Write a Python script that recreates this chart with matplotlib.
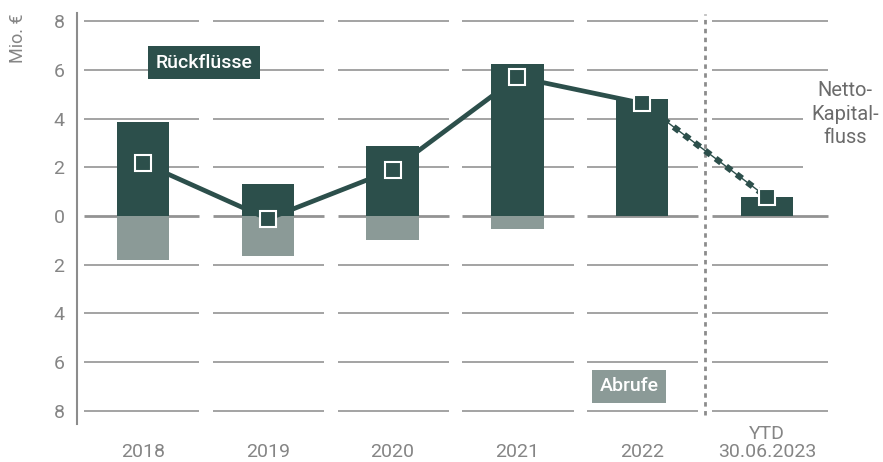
import matplotlib.pyplot as plt
import matplotlib.transforms as mtransforms

plt.rcParams['font.family'] = ['Roboto', 'DejaVu Sans']

# Mio. EUR per period
labels = ['2018', '2019', '2020', '2021', '2022', 'YTD\n30.06.2023']
rueckfluesse = [3.85, 1.31, 2.87, 6.23, 4.80, 0.79]
abrufe = [-1.80, -1.63, -0.98, -0.52, 0.0, 0.0]
netto = [2.18, -0.12, 1.89, 5.70, 4.63, 0.77]
yticks = [8, 6, 4, 2, 0, -2, -4, -6, -8]

dark = '#2c4f4b'
light = '#8b9a97'
grid_c = '#939393'
text_c = '#858585'
fs = 14

fig = plt.figure(figsize=(8.83, 4.62), dpi=100)
ax = fig.add_axes([77 / 883, 1 - 424 / 462, (840 - 77) / 883, (424 - 13) / 462])
ax.set_xlim(-0.529, 5.585)
ax.set_ylim(-8.55, 8.34)

x = list(range(len(labels)))

# grid drawn as separate segments per category
for i in x:
    for yv in yticks:
        x0 = i - 0.44
        x1 = i + 0.45
        if i == 0:
            x0 = -0.47
        if i == len(labels) - 1:
            # shorter where the side label sits
            x1 = i + 0.29 if yv in (4, 2) else i + 0.49
        lw = 2.0 if yv == 0 else 1.2
        ax.hlines(yv, x0, x1, color=grid_c, lw=lw, zorder=1)

ax.bar(x, rueckfluesse, width=0.42, color=dark, zorder=2)
ax.bar(x, abrufe, width=0.42, color=light, zorder=2)

# net flow: solid for full years, dotted to the YTD value
ax.plot(x[:5], netto[:5], color=dark, lw=3.4, zorder=3, solid_joinstyle='miter')
ax.plot(x[4:], netto[4:], color=dark, lw=1.0, zorder=3)
ax.plot(x[4:], netto[4:], color=dark, lw=4.5, zorder=3,
        linestyle=(0, (1.1, 1.0)))
ax.plot(x, netto, linestyle='none', marker='s', markersize=11,
        markerfacecolor=dark, markeredgecolor='white', markeredgewidth=1.5,
        zorder=4)

# separator before the YTD column
ax.vlines(4.5, -8.16, 8.3, color='#8c8c8c', lw=2.0,
          linestyles=[(0, (1.6, 1.6))], zorder=1)

for s in ['top', 'right', 'bottom']:
    ax.spines[s].set_visible(False)
ax.spines['left'].set_color('#8c8c8c')
ax.spines['left'].set_linewidth(1.5)

ax.set_yticks(yticks)
ax.set_yticklabels([str(abs(v)) for v in yticks])
ax.tick_params(axis='y', length=0, pad=9, labelsize=fs, labelcolor=text_c)
ax.set_xticks([])

trans = mtransforms.blended_transform_factory(ax.transData, fig.transFigure)
for i, lab in enumerate(labels):
    ax.text(i, 1 - 461 / 462, lab, transform=trans, ha='center', va='bottom',
            fontsize=fs, color=text_c, linespacing=1.0)

fig.text(18 / 883, 1 - 38 / 462, 'Mio. €', rotation=90, ha='center',
         va='center', fontsize=13, color=text_c)

ax.text(0.49, 6.3, 'Rückflüsse', ha='center', va='center', fontsize=fs,
        color='white', fontweight='medium',
        bbox=dict(boxstyle='square,pad=0.4', fc=dark, ec='none'))
ax.text(3.895, -7.0, 'Abrufe', ha='center', va='center', fontsize=fs,
        color='white', fontweight='medium',
        bbox=dict(boxstyle='square,pad=0.4', fc=light, ec='none'))

ax.text(845 / 883, 1 - 114 / 462, 'Netto-\nKapital-\nfluss', transform=fig.transFigure,
        ha='center', va='center', fontsize=14.5, color='#6b6b6b',
        linespacing=1.3)

fig.savefig('out.png', dpi=100)
